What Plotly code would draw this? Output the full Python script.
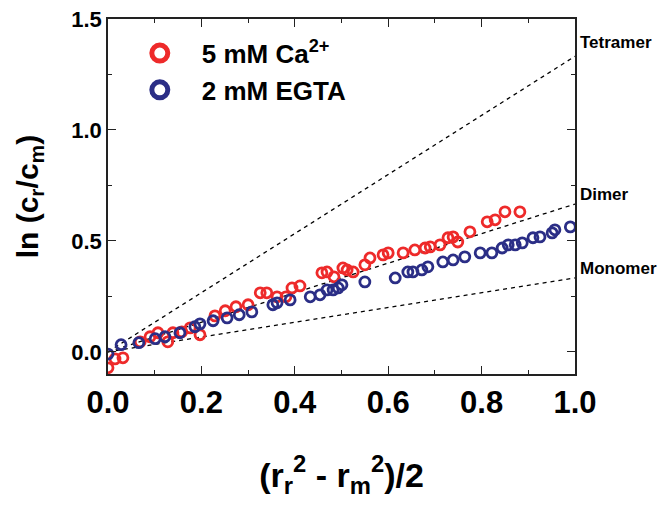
import plotly.graph_objects as go

# ---- data ----
ca_x = [0.000, 0.015, 0.032, 0.069, 0.090, 0.107, 0.128, 0.139, 0.158, 0.176,
        0.197, 0.229, 0.251, 0.274, 0.300, 0.326, 0.340, 0.362, 0.381, 0.394,
        0.411, 0.458, 0.469, 0.484, 0.503, 0.512, 0.525, 0.550, 0.561, 0.589,
        0.600, 0.632, 0.657, 0.679, 0.690, 0.711, 0.728, 0.739, 0.749, 0.775,
        0.812, 0.829, 0.850, 0.882]
ca_y = [-0.072, -0.032, -0.027, 0.045, 0.068, 0.086, 0.045, 0.086, 0.090, 0.108,
        0.077, 0.162, 0.185, 0.203, 0.212, 0.266, 0.266, 0.248, 0.248, 0.288,
        0.297, 0.356, 0.360, 0.338, 0.378, 0.369, 0.360, 0.392, 0.423, 0.437,
        0.446, 0.446, 0.459, 0.468, 0.473, 0.482, 0.514, 0.518, 0.495, 0.541,
        0.586, 0.595, 0.631, 0.631]

egta_x = [0.000, 0.028, 0.066, 0.101, 0.122, 0.154, 0.186, 0.197, 0.225, 0.255,
          0.281, 0.308, 0.353, 0.362, 0.390, 0.433, 0.454, 0.469, 0.482, 0.493,
          0.501, 0.550, 0.615, 0.642, 0.653, 0.672, 0.685, 0.717, 0.739, 0.764,
          0.797, 0.822, 0.844, 0.857, 0.872, 0.887, 0.910, 0.925, 0.951, 0.957,
          0.990]
egta_y = [-0.010, 0.032, 0.041, 0.059, 0.068, 0.086, 0.113, 0.126, 0.140, 0.153,
          0.167, 0.180, 0.212, 0.221, 0.234, 0.248, 0.257, 0.279, 0.279, 0.288,
          0.302, 0.315, 0.333, 0.360, 0.360, 0.369, 0.383, 0.405, 0.414, 0.428,
          0.446, 0.446, 0.468, 0.482, 0.482, 0.491, 0.514, 0.518, 0.536, 0.550,
          0.563]

model_names = ["Monomer", "Dimer", "Tetramer"]
model_slopes = [0.333, 0.666, 1.332]
model_label_y = [0.374, 0.707, 1.396]
model_x = [0.0, 1.0]

x_ticks = [0.0, 0.2, 0.4, 0.6, 0.8, 1.0]
y_ticks = [0.0, 0.5, 1.0, 1.5]

RED = "#ee2a2a"
BLUE = "#2b2e86"
FONT = "Liberation Sans"

fig = go.Figure()

for name, s in zip(model_names, model_slopes):
    fig.add_trace(go.Scatter(
        x=model_x, y=[s * v for v in model_x], mode="lines",
        line=dict(color="black", width=1.3, dash="4px,4px"),
        showlegend=False, hoverinfo="skip"))

fig.add_trace(go.Scatter(
    x=ca_x, y=ca_y, mode="markers", showlegend=False,
    marker=dict(symbol="circle-open", size=10, color=RED,
                line=dict(color=RED, width=2.8))))
fig.add_trace(go.Scatter(
    x=egta_x, y=egta_y, mode="markers", showlegend=False,
    marker=dict(symbol="circle-open", size=10, color=BLUE,
                line=dict(color=BLUE, width=2.8))))

# legend entries
fig.add_trace(go.Scatter(
    x=[None], y=[None], mode="markers", name="5 mM Ca<sup>2+</sup>",
    legendgroup="a",
    marker=dict(symbol="circle-open", size=16, color=RED,
                line=dict(color=RED, width=5))))
fig.add_trace(go.Scatter(
    x=[None], y=[None], mode="markers", name="2 mM EGTA",
    legendgroup="b",
    marker=dict(symbol="circle-open", size=16, color=BLUE,
                line=dict(color=BLUE, width=5))))

for name, ly in zip(model_names, model_label_y):
    fig.add_annotation(
        x=1.006, xref="paper", y=ly, yref="y", text=name, showarrow=False,
        xanchor="left", yanchor="middle",
        font=dict(family=FONT, size=17, color="black", weight="bold"))

axis_common = dict(
    showline=True, linecolor="#222222", linewidth=1.5, mirror="ticks",
    ticks="inside", ticklen=8, tickwidth=1.3, tickcolor="#222222",
    showgrid=False, zeroline=False, automargin=False,
    ticklabeloverflow="allow",
)

fig.update_xaxes(
    range=[0, 1.0], tickvals=x_ticks, tickformat=".1f",
    minor=dict(ticks="inside", ticklen=4, dtick=0.1, tickcolor="#222222", showgrid=False),
    tickfont=dict(family=FONT, size=31, color="black", weight="bold"),
    title=dict(text="(r<sub>r</sub><sup>2</sup> - r<sub>m</sub><sup>2</sup>)/2",
               font=dict(family=FONT, size=34, color="black", weight="bold"),
               standoff=44),
    **axis_common)
fig.update_yaxes(
    range=[-0.1, 1.5], tickvals=y_ticks, tickformat=".1f",
    minor=dict(ticks="inside", ticklen=4, dtick=0.25, tickcolor="#222222", showgrid=False),
    tickfont=dict(family=FONT, size=22, color="black", weight="bold"),
    title=dict(text="ln (c<sub>r</sub>/c<sub>m</sub>)",
               font=dict(family=FONT, size=30, color="black", weight="bold"),
               standoff=24),
    **axis_common)

# the page places the figure 8 px in from the top-left corner,
# so the figure is sized to fill the rest of the 667x508 window
fig.update_layout(
    width=659, height=500,
    margin=dict(l=100, r=92, t=11, b=134),
    plot_bgcolor="white", paper_bgcolor="white",
    legend=dict(x=0.021, y=0.970, xanchor="left", yanchor="top",
                bgcolor="rgba(0,0,0,0)", traceorder="grouped",
                tracegroupgap=0, itemwidth=74,
                font=dict(family=FONT, size=26, color="black", weight="bold")),
)

fig.write_html("out.html")
